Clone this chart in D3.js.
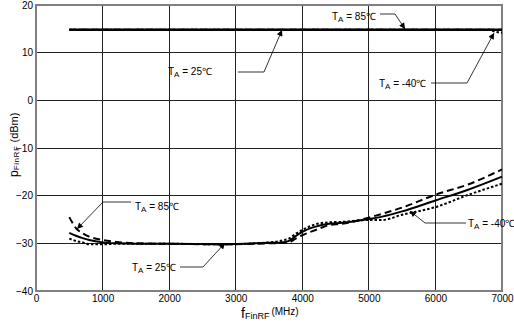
<!DOCTYPE html>
<html><head><meta charset="utf-8">
<script src="https://cdn.jsdelivr.net/npm/d3@7"></script>
<style>body{margin:0;background:#fff}svg{display:block;font-family:"Liberation Sans",Arial,sans-serif}</style>
</head><body><svg id="c" width="514" height="324"></svg>
<script>
const xTicks = [0,1000,2000,3000,4000,5000,6000,7000];
const yTicks = [20,10,0,-10,-20,-30,-40];

// upper curves (saturated output region)
const topFreq  = [500, 1000, 2000, 3000, 4000, 5000, 6000, 6800, 6900, 7000];
const top85    = [14.8,14.8,14.8,14.8,14.8,14.8,14.8,14.8,14.8,14.8];
const top25    = [14.8,14.8,14.8,14.8,14.8,14.8,14.8,14.8,14.8,14.8];
const topM40   = [14.8,14.8,14.8,14.8,14.8,14.8,14.8,14.8,14.4,14.2];

// lower curves
const lowFreq  = [500, 600, 700, 800, 1000, 1200, 1500, 2000, 2800, 3500, 3700, 3800, 3900, 4000, 4200, 4400, 4600, 5000, 5200, 5500, 6000, 6500, 7000];
const low85    = [-24.5,-26.8,-27.9,-28.6,-29.3,-29.7,-30.0,-30.1,-30.2,-30.0,-29.9,-29.8,-29.0,-28.3,-27.2,-26.2,-25.9,-24.6,-23.8,-22.5,-19.8,-17.6,-14.5];
const low25    = [-27.8,-28.4,-28.9,-29.3,-29.8,-30.0,-30.1,-30.1,-30.2,-29.9,-29.8,-29.5,-28.5,-27.6,-26.5,-25.9,-25.7,-24.9,-24.4,-23.3,-21.0,-18.7,-16.0];
const lowM40   = [-29.0,-29.5,-29.8,-30.2,-30.2,-30.1,-30.1,-30.1,-30.2,-29.8,-29.4,-29.0,-28.0,-27.2,-26.0,-25.6,-25.5,-25.1,-25.1,-24.0,-22.4,-19.8,-17.5];

const svg = d3.select("#c");
const x = d3.scaleLinear().domain([0,7000]).range([36,502]);
const y = d3.scaleLinear().domain([-40,20]).range([291,5]);

// grid
svg.append("g").selectAll("line").data(xTicks.slice(1,-1)).join("line")
  .attr("x1",d=>x(d)).attr("x2",d=>x(d)).attr("y1",y(20)).attr("y2",y(-40))
  .attr("stroke","#222").attr("stroke-width",1).attr("shape-rendering","crispEdges");
svg.append("g").selectAll("line").data(yTicks.slice(1,-1)).join("line")
  .attr("x1",x(0)).attr("x2",x(7000)).attr("y1",d=>y(d)).attr("y2",d=>y(d))
  .attr("stroke","#222").attr("stroke-width",1).attr("shape-rendering","crispEdges");
svg.append("rect").attr("x",x(0)).attr("y",y(20)).attr("width",x(7000)-x(0)).attr("height",y(-40)-y(20))
  .attr("fill","none").attr("stroke","#808080").attr("stroke-width",1.2).attr("shape-rendering","crispEdges");

// axes labels via d3 axes
const xa = svg.append("g").attr("transform",`translate(0,${y(-40)})`)
  .call(d3.axisBottom(x).tickValues(xTicks).tickSize(0).tickPadding(4).tickFormat(d3.format("d")));
const ya = svg.append("g").attr("transform",`translate(${x(0)},0)`)
  .call(d3.axisLeft(y).tickValues(yTicks).tickSize(0).tickPadding(3).tickFormat(d3.format("d")));
[xa,ya].forEach(a=>{a.select(".domain").remove();
  a.selectAll("text").attr("font-size",10).attr("fill","#000").attr("font-family","Liberation Sans, Arial, sans-serif");});

// curves
const line = (xs,ys)=>d3.line().x((d,i)=>x(xs[i])).y(d=>y(d)).curve(d3.curveMonotoneX)(ys);
function draw(xs,ys,dash,w){
  const p = svg.append("path").attr("d",line(xs,ys)).attr("fill","none").attr("stroke","#000").attr("stroke-width",w);
  if(dash) p.attr("stroke-dasharray",dash);
}
draw(topFreq,top25,null,2.4);
draw(topFreq,top85,"7,4",2);
draw(topFreq,topM40,"2.5,2",2);
draw(lowFreq,lowM40,"2.5,2",2);
draw(lowFreq,low25,null,2);
draw(lowFreq,low85,"7,4",2);

// annotations
svg.append("defs").append("marker").attr("id","ah").attr("viewBox","0 0 10 10").attr("refX",10).attr("refY",5)
  .attr("markerWidth",9).attr("markerHeight",6).attr("markerUnits","userSpaceOnUse").attr("orient","auto")
  .append("path").attr("d","M0,0L10,5L0,10Z").attr("fill","#000");

function label(tx,ty,temp){
  const t = svg.append("text").attr("x",tx).attr("y",ty).attr("font-size",10);
  t.append("tspan").text("T");
  t.append("tspan").attr("font-size",8).attr("dy",2).text("A");
  t.append("tspan").attr("dy",-2).text(" = "+temp+"\u2103");
}
function leader(pts){
  svg.append("path").attr("d",d3.line()(pts)).attr("fill","none").attr("stroke","#000").attr("stroke-width",0.8)
    .attr("marker-end","url(#ah)");
}
label(332,20,"85");  leader([[380,14],[395,14],[405,29]]);
label(168,75,"25");  leader([[238,72],[264,72],[282,30]]);
label(379,87,"-40"); leader([[431,83],[467,83],[494,33]]);
label(135,210,"85"); leader([[131,202],[103,202],[77,229]]);
label(132,271,"25"); leader([[180,267],[203,267],[225,243]]);
label(468,227,"-40"); leader([[466,223],[425,223],[410,211]]);

// axis titles
const xt = svg.append("text").attr("x",241).attr("y",318).attr("font-size",10);
xt.append("tspan").attr("font-size",14).text("f");
xt.append("tspan").attr("font-size",9).attr("dy",1).text("FinRF");
xt.append("tspan").attr("dy",-4).attr("dx",2).text("(MHz)");

const yt = svg.append("text").attr("transform","translate(18,177) rotate(-90)").attr("font-size",11);
yt.append("tspan").attr("font-size",12).text("p");
yt.append("tspan").attr("font-size",8).attr("dy",1).attr("letter-spacing",0.6).text("FinRF");
yt.append("tspan").attr("dy",-1).attr("dx",3).text("(dBm)");
</script></body></html>
